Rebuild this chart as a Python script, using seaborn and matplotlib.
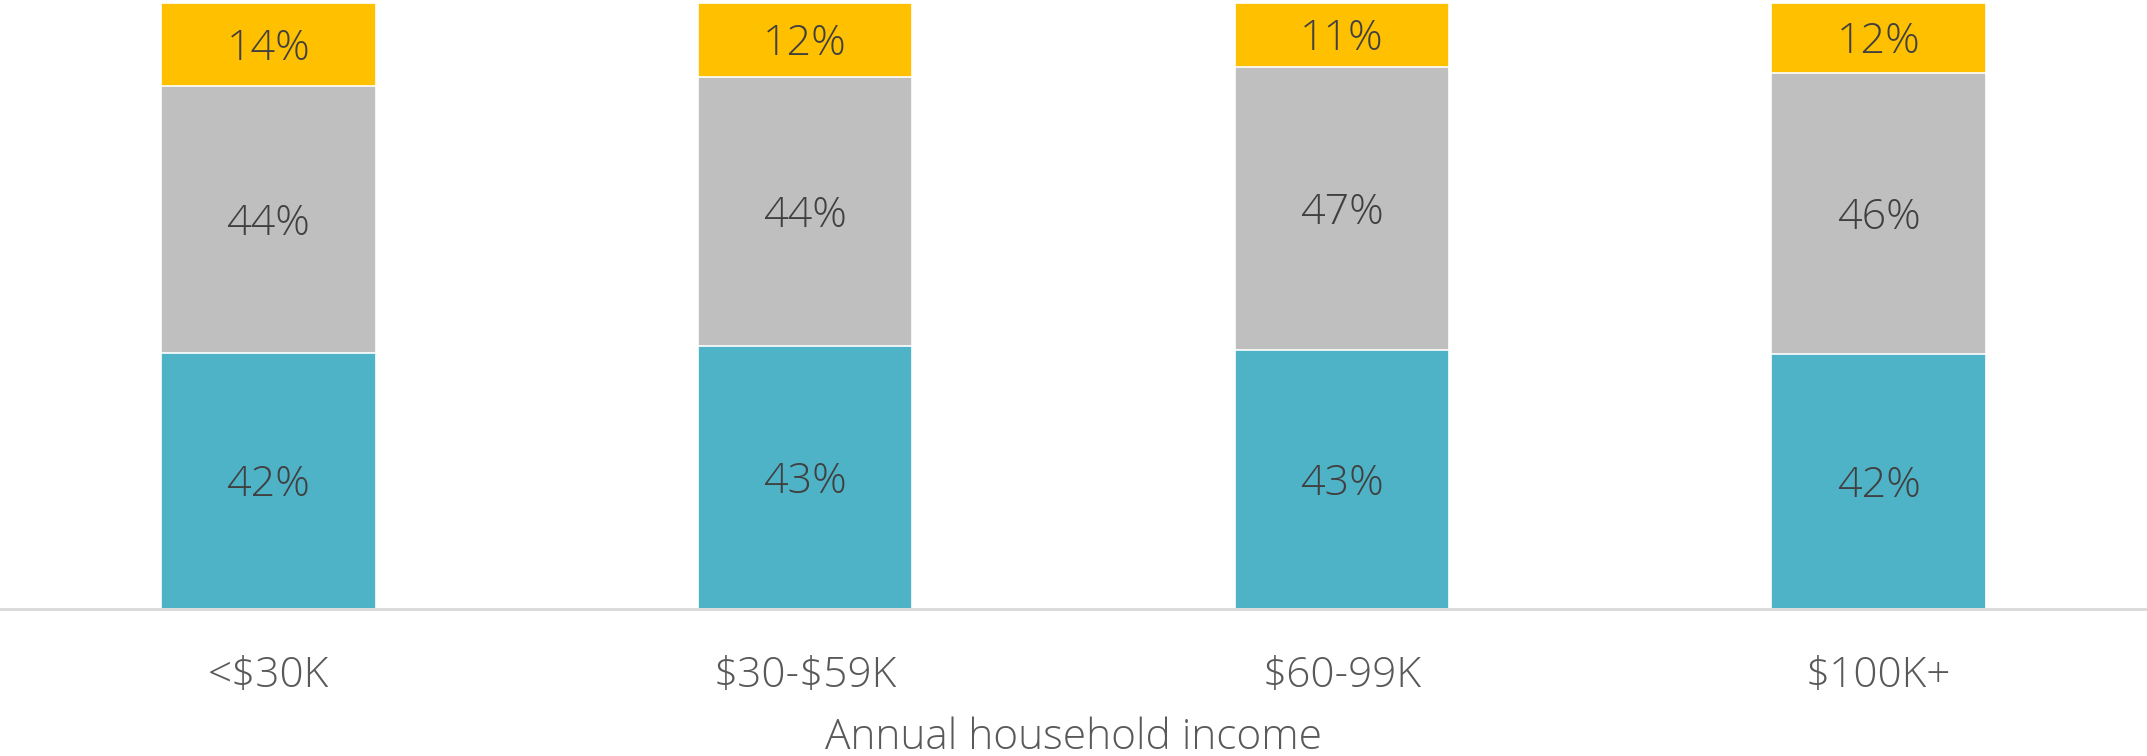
import matplotlib
matplotlib.use("Agg")
import matplotlib.pyplot as plt
import matplotlib.transforms as mtransforms
import seaborn as sns
import pandas as pd
import numpy as np

categories = ["<$30K", "$30-$59K", "$60-99K", "$100K+"]
teal_vals = [42.3, 43.4, 42.7, 42.1]
gray_vals = [43.9, 44.4, 46.7, 46.3]
yellow_vals = [13.8, 12.2, 10.6, 11.6]
x_label = "Annual household income"

sns.set_theme(style="white")
plt.rcParams['font.family'] = ['Open Sans', 'DejaVu Sans']
plt.rcParams['text.parse_math'] = False

fig = plt.figure(figsize=(21.47, 7.56), dpi=100)
ax = fig.add_axes([0, 1 - 609 / 756, 1, (609 - 2.7) / 756])

df = pd.DataFrame({"cat": categories, "teal": teal_vals, "gray": gray_vals, "yellow": yellow_vals})
df["c2"] = df["teal"] + df["gray"]
df["c3"] = df["c2"] + df["yellow"]

kw = dict(width=0.4, edgecolor="white", linewidth=1.2, ax=ax, order=categories)
sns.barplot(data=df, x="cat", y="c3", color="#FFC000", saturation=1, **kw)
sns.barplot(data=df, x="cat", y="c2", color="#BFBFBF", saturation=1, **kw)
sns.barplot(data=df, x="cat", y="teal", color="#4FB3C8", saturation=1, **kw)

shift = mtransforms.offset_copy(ax.transData, fig=fig, x=0, y=-4, units="dots")
for i, row in df.iterrows():
    for lo, v in [(0, row["teal"]), (row["teal"], row["gray"]), (row["c2"], row["yellow"])]:
        ax.text(i, lo + v / 2, f"{int(round(v))}%", ha="center", va="center",
                fontsize=31, color="#404040", fontweight="light", transform=shift)

ax.set_xlim(-0.5, 3.5)
ax.set_ylim(0, df["c3"].max())
ax.set_yticks([])
ax.set_ylabel("")
ax.set_xlabel("")
for s in ["top", "right", "left"]:
    ax.spines[s].set_visible(False)
ax.spines["bottom"].set_color("#D9D9D9")
ax.spines["bottom"].set_linewidth(2)
ax.tick_params(axis="x", length=0, pad=33, labelsize=30.5, labelcolor="#595959")
for t in ax.get_xticklabels():
    t.set_fontweight("light")
fig.text(0.5, 7 / 756, x_label, ha="center", va="baseline", fontsize=30.5,
         color="#595959", fontweight="light")

fig.savefig("out.png", dpi=100)
